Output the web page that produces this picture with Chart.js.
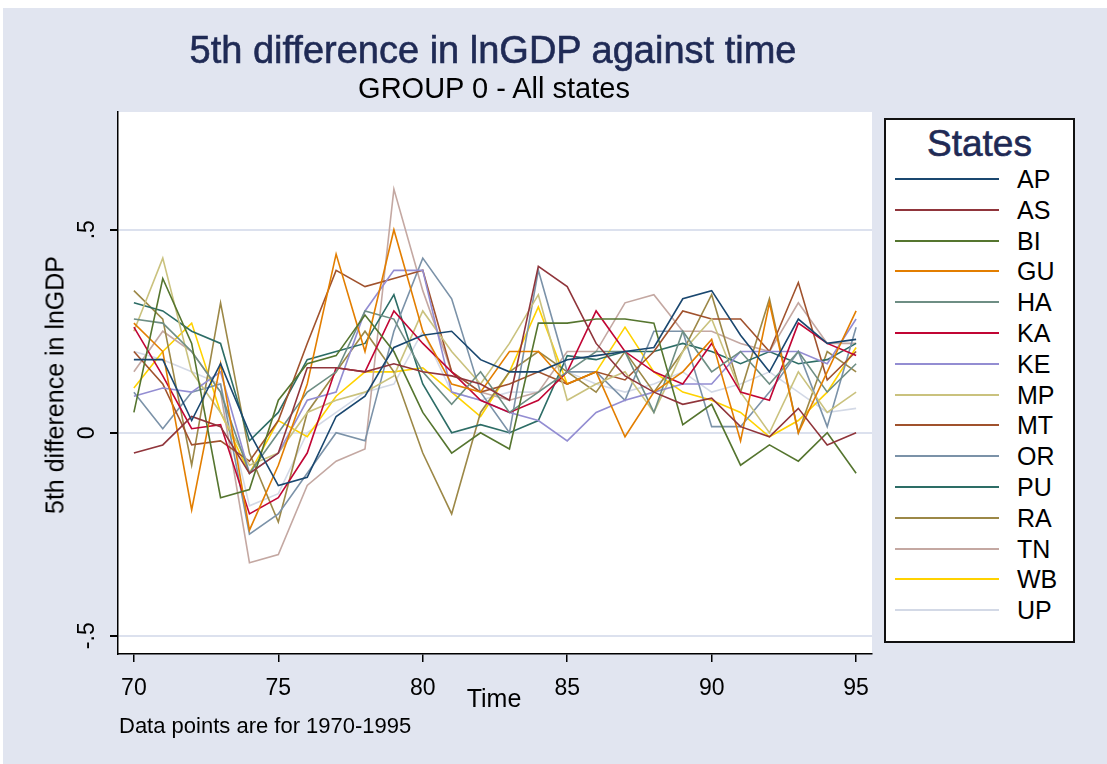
<!DOCTYPE html>
<html lang="en">
<head>
    <meta charset="UTF-8">
    <title>5th difference in lnGDP against time</title>
    <script src="https://cdn.jsdelivr.net/npm/chart.js"></script>
    <style>
        body {
            margin: 0;
            width: 1107px;
            height: 764px;
            background: #fff;
            font-family: "Liberation Sans", Arial, sans-serif;
            position: relative;
            overflow: hidden;
        }
        #frame {
            position: absolute;
            left: 3px;
            top: 8px;
            width: 1104px;
            height: 756px;
            background: #e1e5f0;
        }
        #chart {
            position: absolute;
            left: 0;
            top: 0;
        }
        .txt {
            position: absolute;
            white-space: nowrap;
        }
        #title {
            left: 493px; top: 29px;
            transform: translateX(-50%);
            font-size: 38px;
            color: #1f2a55;
            -webkit-text-stroke: 0.6px #1f2a55;
        }
        #subtitle {
            left: 494px; top: 72px;
            transform: translateX(-50%);
            font-size: 29px;
            color: #000;
        }
        #ytitle {
            left: 55px; top: 385px;
            transform: translate(-50%, -50%) rotate(-90deg);
            font-size: 25px;
        }
        #xtitle {
            left: 494px; top: 684px;
            transform: translateX(-50%);
            font-size: 25px;
        }
        #note {
            left: 119px; top: 713px;
            font-size: 22px;
        }
        #legend {
            position: absolute;
            left: 884px; top: 118px;
            width: 187px; height: 521px;
            background: #fff;
            border: 2px solid #111;
        }
        #legend h2 {
            margin: 0;
            position: absolute;
            left: 0; right: 0; top: 3px;
            text-align: center;
            font-weight: normal;
            font-size: 37px;
            color: #1f2a55;
            -webkit-text-stroke: 0.6px #1f2a55;
        }
        .item {
            position: absolute;
            left: 0;
            height: 26px;
        }
        .item span.line {
            position: absolute;
            left: 9px; top: 12px;
            width: 104px; height: 2px;
        }
        .item span.lab {
            position: absolute;
            left: 131px; top: 0;
            font-size: 25px;
            line-height: 26px;
        }
    </style>
</head>
<body>
    <div id="frame"></div>
    <canvas id="chart" width="1107" height="764"></canvas>
    <div class="txt" id="title">5th difference in lnGDP against time</div>
    <div class="txt" id="subtitle">GROUP 0 - All states</div>
    <div class="txt" id="ytitle">5th difference in lnGDP</div>
    <div class="txt" id="xtitle">Time</div>
    <div class="txt" id="note">Data points are for 1970-1995</div>
    <div id="legend"><h2>States</h2></div>

    <script>
        // years 70..95
        const years = [70, 71, 72, 73, 74, 75, 76, 77, 78, 79, 80, 81, 82, 83, 84, 85, 86, 87, 88, 89, 90, 91, 92, 93, 94, 95];

        const AP = [0.18, 0.18, 0.03, 0.17, 0.0, -0.13, -0.11, 0.04, 0.09, 0.21, 0.24, 0.25, 0.18, 0.15, 0.15, 0.18, 0.19, 0.2, 0.21, 0.33, 0.35, 0.24, 0.15, 0.28, 0.22, 0.23];
        const AS = [-0.05, -0.03, 0.04, 0.015, -0.1, -0.05, 0.16, 0.16, 0.15, 0.17, 0.15, 0.14, 0.12, 0.08, 0.41, 0.36, 0.22, 0.14, 0.1, 0.07, 0.085, 0.015, -0.01, 0.06, -0.03, 0.0];
        const BI = [0.05, 0.38, 0.22, -0.16, -0.14, 0.08, 0.17, 0.19, 0.29, 0.2, 0.05, -0.05, 0.0, -0.04, 0.27, 0.27, 0.28, 0.28, 0.27, 0.02, 0.07, -0.08, -0.03, -0.07, 0.0, -0.1];
        const GU = [0.27, 0.2, -0.19, 0.17, -0.24, -0.08, 0.12, 0.44, 0.2, 0.5, 0.25, 0.12, 0.1, 0.2, 0.2, 0.12, 0.15, -0.01, 0.1, 0.15, 0.23, -0.02, 0.32, 0.0, 0.15, 0.3];
        const HA = [0.28, 0.27, 0.2, 0.1, -0.1, 0.0, 0.1, 0.15, 0.3, 0.28, 0.15, 0.07, 0.15, 0.05, 0.1, 0.15, 0.2, 0.2, 0.05, 0.25, 0.15, 0.2, 0.12, 0.2, 0.1, 0.17];
        const KA = [0.26, 0.14, 0.01, 0.02, -0.2, -0.16, -0.05, 0.16, 0.15, 0.3, 0.22, 0.15, 0.08, 0.05, 0.08, 0.15, 0.3, 0.2, 0.15, 0.12, 0.22, 0.1, 0.08, 0.27, 0.22, 0.19];
        const KE = [0.09, 0.11, 0.1, 0.15, -0.1, -0.05, 0.08, 0.1, 0.3, 0.4, 0.4, 0.1, 0.08, 0.05, 0.03, -0.02, 0.05, 0.08, 0.1, 0.12, 0.12, 0.2, 0.2, 0.2, 0.17, 0.28];
        const MP = [0.25, 0.43, 0.15, 0.05, -0.08, -0.05, 0.05, 0.08, 0.1, 0.14, 0.3, 0.2, 0.12, 0.22, 0.34, 0.08, 0.12, 0.15, 0.05, 0.2, 0.28, 0.1, 0.0, 0.15, 0.05, 0.1];
        const MT = [0.2, 0.12, -0.03, -0.02, -0.07, 0.03, 0.22, 0.4, 0.36, 0.38, 0.4, 0.15, 0.1, 0.12, 0.15, 0.12, 0.15, 0.13, 0.2, 0.3, 0.28, 0.28, 0.2, 0.37, 0.13, 0.2];
        const OR = [0.1, 0.01, 0.1, 0.12, -0.25, -0.2, -0.1, 0.0, -0.02, 0.25, 0.43, 0.33, 0.1, 0.0, 0.4, 0.15, 0.15, 0.08, 0.25, 0.25, 0.015, 0.015, 0.1, 0.2, 0.015, 0.26];
        const PU = [0.32, 0.3, 0.25, 0.22, -0.02, 0.05, 0.18, 0.2, 0.22, 0.34, 0.12, 0.0, 0.02, 0.0, 0.03, 0.19, 0.18, 0.2, 0.2, 0.22, 0.2, 0.17, 0.2, 0.17, 0.18, 0.22];
        const RA = [0.35, 0.28, -0.08, 0.32, -0.05, -0.22, 0.05, 0.15, 0.25, 0.15, -0.05, -0.2, 0.05, 0.15, 0.2, 0.15, 0.1, 0.2, 0.1, 0.2, 0.34, 0.1, 0.33, 0.0, 0.2, 0.15];
        const TN = [0.15, 0.25, 0.2, 0.1, -0.32, -0.3, -0.13, -0.07, -0.04, 0.6, 0.35, 0.15, 0.1, 0.08, 0.1, 0.2, 0.2, 0.32, 0.34, 0.25, 0.25, 0.22, 0.2, 0.32, 0.22, 0.22];
        const WB = [0.11, 0.2, 0.27, 0.05, -0.1, 0.03, -0.01, 0.09, 0.15, 0.15, 0.16, 0.1, 0.04, 0.15, 0.31, 0.12, 0.15, 0.26, 0.15, 0.1, 0.08, 0.05, -0.01, 0.03, 0.1, 0.21];
        const UP = [0.2, 0.18, 0.15, 0.12, -0.18, -0.15, 0.0, 0.05, 0.1, 0.12, 0.25, 0.1, 0.08, 0.1, 0.1, 0.15, 0.12, 0.1, 0.12, 0.15, 0.1, 0.12, 0.15, 0.1, 0.05, 0.06];

        const states = ['AP', 'AS', 'BI', 'GU', 'HA', 'KA', 'KE', 'MP', 'MT', 'OR', 'PU', 'RA', 'TN', 'WB', 'UP'];
        const series = [AP, AS, BI, GU, HA, KA, KE, MP, MT, OR, PU, RA, TN, WB, UP];
        const colors = ['#1a476f', '#90353b', '#55752f', '#e37e00', '#6e8e84', '#c10534', '#938dd2', '#cac27e',
                        '#a0522d', '#7b92a8', '#2d6d66', '#9c8847', '#c4a8a2', '#ffd200', '#d3d9e6'];
        const yTicks = [-0.5, 0, 0.5];

        // legend (html)
        const legend = document.getElementById('legend');
        states.forEach((s, i) => {
            const it = document.createElement('div');
            it.className = 'item';
            it.style.top = (46 + i * 30.8) + 'px';
            it.innerHTML = '<span class="line" style="background:' + colors[i] + '"></span><span class="lab">' + s + '</span>';
            legend.appendChild(it);
        });

        // white plot region + rotated y tick labels
        const plotBits = {
            id: 'plotBits',
            beforeDraw(chart) {
                const a = chart.chartArea;
                const ctx = chart.ctx;
                ctx.save();
                ctx.fillStyle = '#fff';
                ctx.fillRect(a.left, a.top, a.right - a.left, a.bottom - a.top);
                ctx.restore();
            },
            afterDraw(chart) {
                const sc = chart.scales.y;
                const ctx = chart.ctx;
                ctx.save();
                ctx.fillStyle = '#000';
                ctx.font = '23px "Liberation Sans", Arial, sans-serif';
                ctx.textAlign = 'center';
                ctx.textBaseline = 'middle';
                yTicks.forEach(v => {
                    const lab = v === 0 ? '0' : String(v).replace('0.', '.');
                    ctx.save();
                    ctx.translate(sc.left + 88, sc.getPixelForValue(v));
                    ctx.rotate(-Math.PI / 2);
                    ctx.fillText(lab, 0, 0);
                    ctx.restore();
                });
                ctx.restore();
            }
        };

        const ctx = document.getElementById('chart').getContext('2d');
        const chart = new Chart(ctx, {
            type: 'line',
            data: {
                datasets: series.map((vals, i) => ({
                    label: states[i],
                    data: vals.map((v, j) => ({ x: years[j], y: v })),
                    borderColor: colors[i],
                    borderWidth: 1.6,
                    pointRadius: 0,
                    tension: 0,
                    fill: false
                }))
            },
            options: {
                responsive: false,
                animation: false,
                layout: { padding: { left: 0, top: 112, right: 235, bottom: 0 } },
                plugins: { legend: { display: false }, tooltip: { enabled: false } },
                scales: {
                    x: {
                        type: 'linear',
                        min: 69.45,
                        max: 95.55,
                        afterFit: s => { s.height = 110; },
                        ticks: {
                            stepSize: 5,
                            includeBounds: false,
                            color: '#000',
                            font: { family: '"Liberation Sans", Arial, sans-serif', size: 23 },
                            padding: 13,
                            maxRotation: 0
                        },
                        grid: { drawOnChartArea: false, tickColor: '#000', tickLength: 8, lineWidth: 1.5 },
                        border: { color: '#000', width: 1.5 }
                    },
                    y: {
                        min: -0.545,
                        max: 0.79,
                        afterFit: s => { s.width = 118; },
                        ticks: { stepSize: 0.5, includeBounds: false, display: false },
                        grid: { color: '#dce1ee', lineWidth: 2, tickColor: '#000', tickLength: 8 },
                        border: { color: '#000', width: 1.5 }
                    }
                }
            },
            plugins: [plotBits]
        });
    </script>
</body>
</html>
